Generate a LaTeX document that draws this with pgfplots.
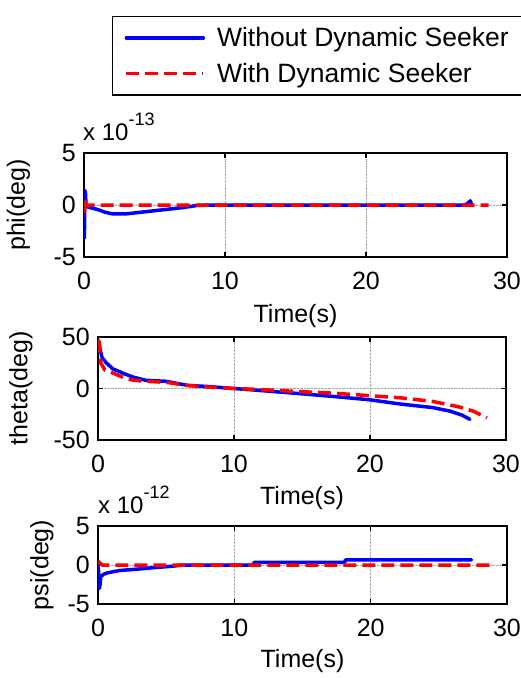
\documentclass[border=0pt]{standalone}
\usepackage{pgfplots}
\pgfplotsset{compat=1.18}
\usepackage{fontspec}
\setmainfont{Liberation Sans}
\definecolor{mblue}{rgb}{0,0,1}
\definecolor{mred}{rgb}{1,0,0}
\pgfplotsset{
  mystyle/.style={
    scale only axis,
    font=\fontsize{25}{29}\selectfont,
    xmin=0, xmax=30,
    xtick={0,10,20,30}, xticklabels={0,10,20,30},
    tick align=inside, tick pos=both,
    major tick length=5pt,
    axis line style={line width=1.4pt},
    every tick/.style={black, line width=1.2pt},
    grid=major,
    major grid style={densely dotted, gray!70, line width=0.7pt},
    xticklabel style={anchor=center, yshift=-24pt, inner sep=0pt},
    yticklabel style={anchor=east, xshift=-8pt, inner sep=0pt},
    legend image code/.code={\draw[#1] (0pt,0pt) -- (77pt,0pt);},
  },
  blueline/.style={color=mblue, line width=3.5pt, solid, line join=round, line cap=round},
  redline/.style={color=mred, line width=3.5pt, dash pattern=on 13pt off 6pt, line join=round},
}
\begin{document}
\begin{tikzpicture}[x=1pt,y=1pt]
\useasboundingbox (0pt,0pt) rectangle (521pt,-678pt);
% ---------- phi ----------
\begin{axis}[mystyle,
  at={(84pt,-257pt)}, anchor=south west,
  width=423pt, height=104pt,
  ymin=-5, ymax=5, ytick={-5,0,5}, yticklabels={-5,0,5},
  ylabel={phi(deg)}, ylabel style={at={(axis description cs:-0.155,0.5)}, anchor=center},
  xlabel={Time(s)}, xlabel style={at={(axis description cs:0.5,-0.57)}, anchor=center},
  legend style={at={(axis description cs:0.0662,2.317)}, anchor=north west,
    draw=black, line width=1.2pt, fill=white,
    font=\fontsize{26.5}{31}\selectfont,
    inner xsep=12pt, inner ysep=8pt, row sep=9pt, column sep=8pt,
    nodes={inner xsep=4pt, inner ysep=3pt}},
  legend cell align=left,
]
\addplot[blueline] coordinates {
(0,0) (0.03,-3.2) (0.06,1.4) (0.1,1.2) (0.15,-0.1) (0.3,-0.2) (0.6,-0.3) (1.0,-0.45)
(1.5,-0.7) (2,-0.85) (3,-0.85) (4,-0.7) (5,-0.55) (6,-0.4) (7,-0.25) (8,-0.05)
(9,0) (27,0) (27.2,0.15) (27.4,0.4) (27.5,0)
};
\addlegendentry{Without Dynamic Seeker}
\addplot[redline] coordinates {
(0,0.5) (0.05,-0.6) (0.1,0.3) (0.2,0) (28.7,0)
};
\addlegendentry{With Dynamic Seeker}
\end{axis}
\node[anchor=base west, font=\fontsize{24}{28}\selectfont, inner sep=0pt] at (83pt,-140pt)
  {x 10\raisebox{0.6em}{\fontsize{18}{21}\selectfont -13}};
% ---------- theta ----------
\begin{axis}[mystyle,
  at={(98pt,-440pt)}, anchor=south west,
  width=408pt, height=103pt,
  ymin=-50, ymax=50, ytick={-50,0,50}, yticklabels={-50,0,50},
  ylabel={theta(deg)}, ylabel style={at={(axis description cs:-0.189,0.5)}, anchor=center},
  xlabel={Time(s)}, xlabel style={at={(axis description cs:0.5,-0.56)}, anchor=center},
]
\addplot[blueline] coordinates {
(0,45) (0.1,41) (0.3,30) (0.6,25) (1.1,19) (2,14) (2.6,11) (3.5,8) (5,7) (6.6,3)
(8,2) (10,0) (12,-2) (14.85,-5) (17.3,-7.7) (20,-11) (22.2,-15) (24.6,-18.5)
(25.9,-22) (26.8,-26) (27.35,-30)
};
\addplot[redline] coordinates {
(0,47) (0.1,45) (0.2,25) (0.5,18) (1.1,15) (2,10) (2.6,8) (3.5,7) (5,6) (6.6,3)
(8,1.5) (10,0) (12,-1) (14.85,-3) (17.3,-4.5) (20,-7) (22.2,-9) (24.6,-12.5)
(26.6,-18) (27.6,-22) (28.6,-28.5)
};
\end{axis}
% ---------- psi ----------
\begin{axis}[mystyle,
  at={(98pt,-604pt)}, anchor=south west,
  width=409pt, height=78pt,
  ymin=-5, ymax=5, ytick={-5,0,5}, yticklabels={-5,0,5},
  ylabel={psi(deg)}, ylabel style={at={(axis description cs:-0.137,0.5)}, anchor=center},
  xlabel={Time(s)}, xlabel style={at={(axis description cs:0.5,-0.731)}, anchor=center},
]
\addplot[blueline] coordinates {
(0,0) (0.05,-1) (0.1,-3) (0.15,-2.5) (0.2,-1.5) (0.4,-1.2) (0.7,-1.0) (1.6,-0.7)
(3.1,-0.5) (4,-0.35) (5.5,-0.15) (6.2,0) (11.4,0) (11.45,0.35) (18.1,0.35)
(18.15,0.65) (27.4,0.65)
};
\addplot[redline] coordinates {
(0,0.5) (0.15,0.25) (0.3,0) (28.7,0)
};
\end{axis}
\node[anchor=base west, font=\fontsize{24}{28}\selectfont, inner sep=0pt] at (98pt,-513pt)
  {x 10\raisebox{0.6em}{\fontsize{18}{21}\selectfont -12}};
\end{tikzpicture}
\end{document}
